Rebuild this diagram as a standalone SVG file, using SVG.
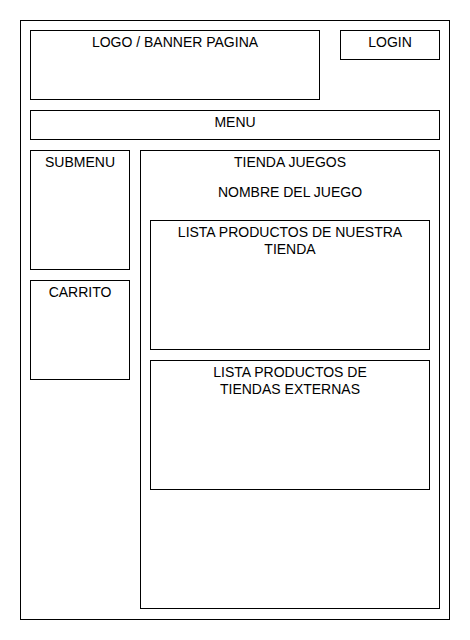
<svg xmlns="http://www.w3.org/2000/svg" width="470" height="640" viewBox="0 0 470 640">
<style>
rect{fill:#fff;stroke:#000;stroke-width:1}
text{font-family:"Liberation Sans",Arial,sans-serif;font-size:14px;fill:#000;text-anchor:middle}
</style>
<rect x="0" y="0" width="470" height="640" style="stroke:none"/>
<g id="page"><rect x="20.5" y="20.5" width="429" height="599"/></g>
<g id="logo"><rect x="30.5" y="30.5" width="289" height="69"/><text x="175" y="47">LOGO / BANNER PAGINA</text></g>
<g id="login"><rect x="340.5" y="30.5" width="99" height="29"/><text x="390" y="47">LOGIN</text></g>
<g id="menu"><rect x="30.5" y="110.5" width="409" height="29"/><text x="235" y="127">MENU</text></g>
<g id="submenu"><rect x="30.5" y="150.5" width="99" height="119"/><text x="80" y="167">SUBMENU</text></g>
<g id="carrito"><rect x="30.5" y="280.5" width="99" height="99"/><text x="80" y="297">CARRITO</text></g>
<g id="tienda"><rect x="140.5" y="150.5" width="299" height="458"/><text x="290" y="167">TIENDA JUEGOS</text><text x="290" y="197">NOMBRE DEL JUEGO</text></g>
<g id="lista1"><rect x="150.5" y="220.5" width="279" height="129"/><text x="290" y="237">LISTA PRODUCTOS DE NUESTRA</text><text x="290" y="254">TIENDA</text></g>
<g id="lista2"><rect x="150.5" y="360.5" width="279" height="129"/><text x="290" y="377">LISTA PRODUCTOS DE</text><text x="290" y="394">TIENDAS EXTERNAS</text></g>
<g id="connectors"/>
</svg>
